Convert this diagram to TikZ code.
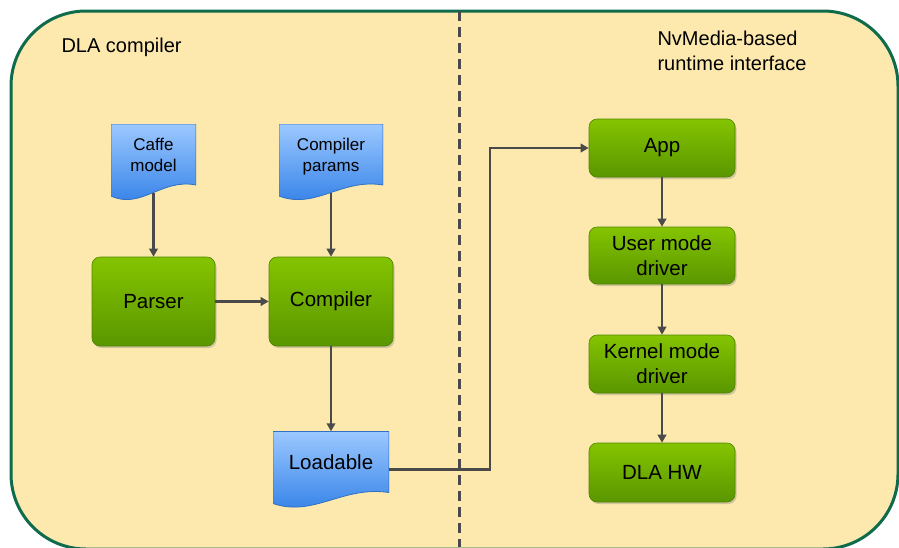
\documentclass[tikz,border=0pt]{standalone}
\usepackage{fontspec}
\setmainfont{Liberation Sans}
\usetikzlibrary{arrows.meta, shadows}
\definecolor{paneFill}{HTML}{FDE9AE}
\definecolor{paneEdge}{HTML}{0E6B4B}
\definecolor{boxTop}{HTML}{84C400}
\definecolor{boxBot}{HTML}{5A9600}
\definecolor{boxEdge}{HTML}{4E8400}
\definecolor{docTop}{HTML}{9CC8FF}
\definecolor{docBot}{HTML}{2D7DE6}
\definecolor{docEdge}{HTML}{3070C4}
\definecolor{wire}{HTML}{4A4A4A}
\tikzset{
x=1pt, y=-1pt, % one unit is one pixel of the screenshot, y runs downwards
block/.style={rounded corners=8pt, top color=boxTop, bottom color=boxBot, draw=boxEdge, line width=.6pt,
  drop shadow={shadow xshift=1.5pt, shadow yshift=-2pt, opacity=.35},
  inner sep=0pt, align=center, font=\fontsize{20.5}{25}\selectfont}, % the green process boxes
doc/.style={minimum width=#1, minimum height=76pt, inner sep=0pt, align=center, text depth=14pt,
  font=\fontsize{17}{21}\selectfont,
  path picture={\shade[top color=docTop, bottom color=docBot, draw=docEdge, line width=.8pt]
    (path picture bounding box.north west) -- (path picture bounding box.north east)
    -- ([yshift=15pt]path picture bounding box.south east)
    .. controls +({-0.4*#1*1pt},7pt) and +({0.35*#1*1pt},-14pt) .. ([yshift=4pt]path picture bounding box.south west)
    -- cycle;}}, % the blue document shapes, wavy bottom
flow/.style={draw=wire, line width=2.6pt, -{Triangle[length=8pt,width=8.5pt]}}, % the arrows
}

\begin{document}
\begin{tikzpicture}
        \useasboundingbox (0,0) rectangle (899,547);
        % background pane
        \draw[paneEdge, fill=paneFill, line width=3pt, rounded corners=75pt] (11,11) rectangle (898,549);
        \draw[wire, line width=3pt, dash pattern=on 10pt off 6pt] (459,11) -- (459,547);
        \node[anchor=west, font=\fontsize{20}{24}\selectfont] (lefttitle) at (58,47) {DLA compiler};
        \node[anchor=west, align=left, font=\fontsize{20}{25}\selectfont] (righttitle) at (654,50.5) {NvMedia-based\\runtime interface};
        % compiler side
        \node[doc=85] (caffe) at (153.5,162) {Caffe\\model};
        \node[doc=104] (params) at (331,162) {Compiler\\params};
        \node[block, minimum width=123, minimum height=89] (parser) at (153.5,301.5) {Parser};
        \node[block, minimum width=124, minimum height=89] (compiler) at (331,301.5) {Compiler};
        \node[doc=116, font=\fontsize{20.5}{25}\selectfont] (load) at (331,469.5) {Loadable};
        % runtime side
        \node[block, minimum width=146, minimum height=58] (app) at (662,148) {App};
        \node[block, minimum width=146, minimum height=57] (umd) at (662,255.5) {User mode\\driver};
        \node[block, minimum width=146, minimum height=58] (kmd) at (662,364) {Kernel mode\\driver};
        \node[block, minimum width=146, minimum height=59] (hw) at (662,472.5) {DLA HW};
        \coordinate (via) at (490,0);
        % arrows
        \draw[flow] ([yshift=7pt]caffe.south) -- (parser);
        \draw[flow] ([yshift=7pt]params.south) -- (compiler);
        \draw[flow] (parser) -- (compiler);
        \draw[flow] (compiler) -- (load);
        \draw[flow] (load.east) -- (load.east -| via) |- (app.west);
        \draw[flow] (app) -- (umd);
        \draw[flow] (umd) -- (kmd);
        \draw[flow] (kmd) -- (hw);
    \end{tikzpicture}
\end{document}
